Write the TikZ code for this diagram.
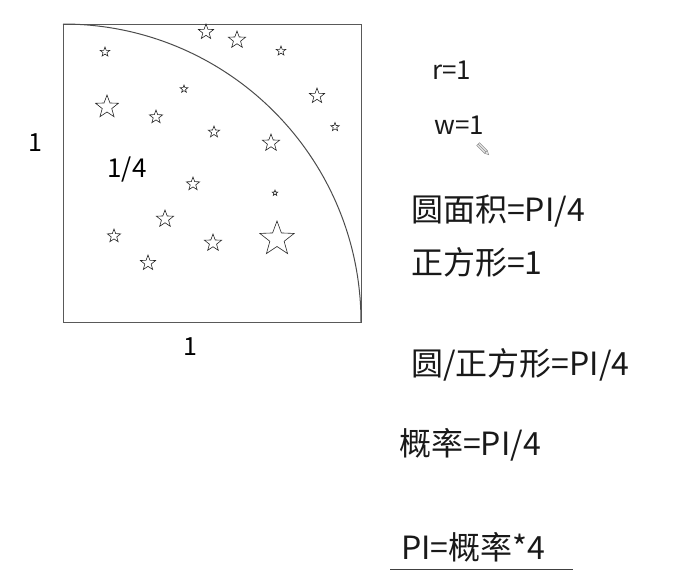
\documentclass[tikz,border=0pt]{standalone}
\usepackage{fontspec}
\setmainfont{Noto Sans CJK SC}
\usetikzlibrary{shapes.geometric}
\tikzset{
  st/.style={star, star points=5, star point ratio=2.4, draw=black!85, line width=0.6pt, inner sep=0pt, minimum size=#1},
  lbl/.style={inner sep=0pt, anchor=west, text=black!90},
  frame/.style={draw=black!65, line width=1pt},
}
\begin{document}
\begin{tikzpicture}[x=1pt,y=-1pt]
\useasboundingbox (0,0) rectangle (697,582);
% square and quarter circle
\draw[frame] (63,24) rectangle (361,322);
\draw[draw=black!70, line width=1pt] (63,24) arc[start angle=90, end angle=0, radius=298pt];
% stars
\foreach \n/\x/\y/\r in {s1/206/32/16, s2/237/40/18, s3/281/51/10, s4/105/52/10, s5/184/89/8,
  s6/317/96/16, s7/107/107/24, s8/156/117/14, s9/335/127/9, s10/214/132/12,
  s11/271/143/18, s12/193/184/14, s13/275/193/6, s14/165/219/18, s15/114/236/14,
  s16/213/243/18, s17/277/239/36, s18/148/263/16}
  \node[st=\r pt] (\n) at (\x,\y) {};
% labels
\node[font=\fontsize{25}{28}\selectfont] (l1) at (35,143) {1};
\node[font=\fontsize{26}{30}\selectfont] (l4) at (127,169) {1/4};
\node[font=\fontsize{25}{28}\selectfont] (l2) at (190,347) {1};
\node[lbl, font=\fontsize{26}{30}\selectfont] (r) at (432,70) {r=1};
\node[lbl, font=\fontsize{26}{30}\selectfont] (w) at (434,125) {w=1};
% pencil cursor
\begin{scope}[shift={(483,149)}, rotate=-45]
  \draw[draw=black!45, fill=black!8, line width=0.5pt] (-7,-2) -- (4,-2) -- (8,0) -- (4,2) -- (-7,2) -- cycle;
  \draw[draw=black!45, line width=0.5pt] (4,-2) -- (4,2);
  \draw[draw=black!45, line width=0.5pt] (-7,0) -- (4,0);
\end{scope}
% right column
\node[lbl, font=\fontsize{32}{36}\selectfont] (t1) at (411,211) {圆面积=PI/4};
\node[lbl, font=\fontsize{32}{36}\selectfont] (t2) at (411,262) {正方形=1};
\node[lbl, font=\fontsize{32}{36}\selectfont] (t3) at (411,365) {圆/正方形=PI/4};
\node[lbl, font=\fontsize{32}{36}\selectfont] (t4) at (399,445) {概率=PI/4};
\node[lbl, font=\fontsize{32}{36}\selectfont] (t5) at (401,547) {PI=概率*4};
\coordinate (u1) at (390,569);
\coordinate (u2) at (573,569);
\draw[draw=black!75, line width=1pt] (u1) -- (u2);
\end{tikzpicture}
\end{document}
